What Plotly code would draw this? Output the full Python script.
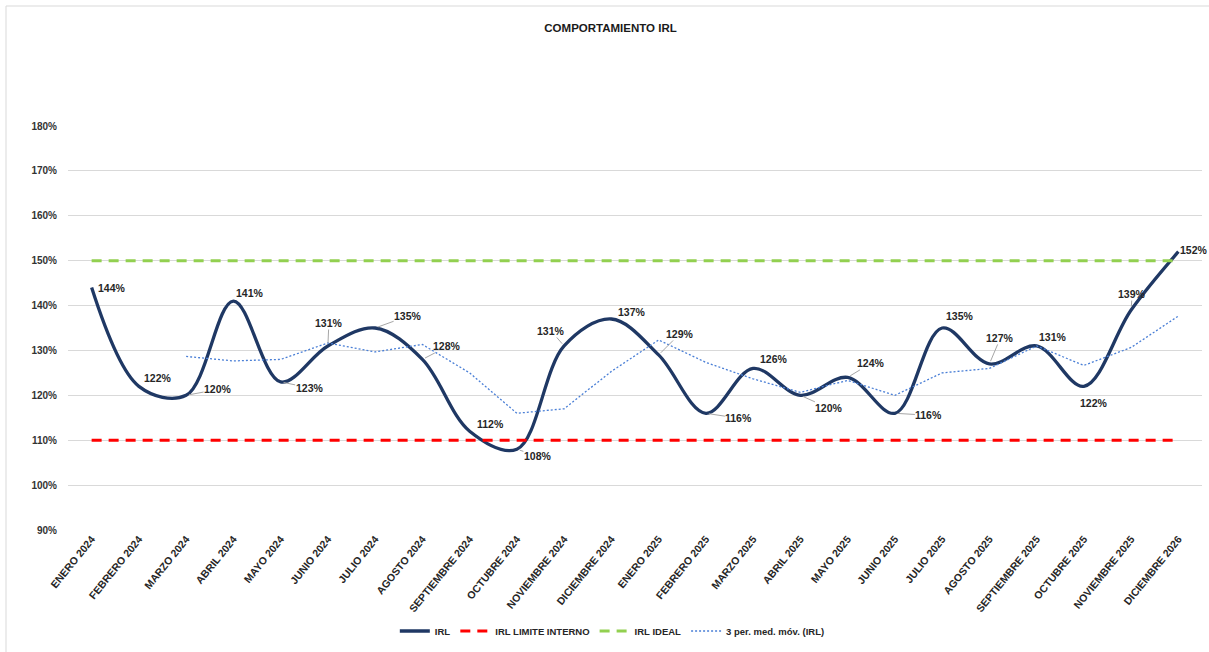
import pandas as pd
import plotly.graph_objects as go

# Monthly periods (category axis)
meses = [
    "ENERO 2024", "FEBRERO 2024", "MARZO 2024", "ABRIL 2024", "MAYO 2024",
    "JUNIO 2024", "JULIO 2024", "AGOSTO 2024", "SEPTIEMBRE 2024", "OCTUBRE 2024",
    "NOVIEMBRE 2024", "DICIEMBRE 2024", "ENERO 2025", "FEBRERO 2025", "MARZO 2025",
    "ABRIL 2025", "MAYO 2025", "JUNIO 2025", "JULIO 2025", "AGOSTO 2025",
    "SEPTIEMBRE 2025", "OCTUBRE 2025", "NOVIEMBRE 2025", "DICIEMBRE 2026",
]

# IRL values (%)
irl = [144, 122, 120, 141, 123, 131, 135, 128, 112, 108, 131, 137,
       129, 116, 126, 120, 124, 116, 135, 127, 131, 122, 139, 152]

# Reference levels (%)
limite_interno = [110] * len(meses)
irl_ideal = [150] * len(meses)

# 3-period moving average trend of IRL
media_movil = pd.Series(irl, dtype=float).rolling(3).mean().tolist()

y_ticks = [90, 100, 110, 120, 130, 140, 150, 160, 170, 180]

# Label placement: pixel offset of each value label from its point, and
# whether a leader line joins them
label_offsets = [
    (20, 0), (19, -8), (32, -6), (17, -8), (29, 6), (1, -23), (33, -12),
    (25, -13), (21, -7), (21, 7), (-13, -15), (21, -7), (21, -21), (33, 5),
    (21, -9), (29, 13), (23, -14), (34, 2), (18, -12), (11, -26), (16, -9),
    (10, 17), (1, -16), (16, -2),
]
leader = [False, False, True, False, True, True, True, True, False, True,
          True, False, True, True, False, True, True, True, False, True,
          False, False, True, False]

FONT = "Liberation Sans, Arial, sans-serif"
NAVY = "#1F3864"

fig = go.Figure()

fig.add_trace(go.Scatter(
    x=meses, y=irl, name="<b>IRL</b>", mode="lines",
    line=dict(color=NAVY, width=3.3, shape="spline", smoothing=1.0),
))
fig.add_trace(go.Scatter(
    x=meses, y=limite_interno, name="<b>IRL LIMITE INTERNO</b>", mode="lines",
    line=dict(color="#FF0000", width=3, dash="10px,7px"),
))
fig.add_trace(go.Scatter(
    x=meses, y=irl_ideal, name="<b>IRL IDEAL</b>", mode="lines",
    line=dict(color="#92D050", width=3, dash="10px,7px"),
))
fig.add_trace(go.Scatter(
    x=meses, y=media_movil, name="<b>3 per. med. móv. (IRL)</b>", mode="lines",
    line=dict(color="#4A7FD6", width=1.3, dash="2px,2px"),
))

annotations = []
for m, v, (dx, dy), has_leader in zip(meses, irl, label_offsets, leader):
    annotations.append(dict(
        x=m, y=v, xref="x", yref="y",
        text=f"<b>{v}%</b>",
        showarrow=True, arrowhead=0, arrowwidth=1,
        arrowcolor="#A6A6A6" if has_leader else "rgba(0,0,0,0)",
        standoff=3, ax=dx, ay=dy, borderpad=0,
        font=dict(family=FONT, size=10.5, color="#262626"),
    ))

fig.update_layout(
    width=1209, height=652,
    paper_bgcolor="white", plot_bgcolor="white",
    margin=dict(l=68, r=7, t=126, b=122),
    font=dict(family=FONT, color="#404040"),
    title=dict(
        text="<b>COMPORTAMIENTO IRL</b>",
        x=0.505, xref="container", xanchor="center",
        y=1 - 28 / 652, yref="container", yanchor="middle",
        font=dict(family=FONT, size=11.5, color="#1A1A1A"),
    ),
    xaxis=dict(
        type="category", range=[-0.5, len(meses) - 0.5],
        tickangle=-51, showgrid=False, showline=False, ticks="",
        tickfont=dict(family=FONT, size=10.5, color="#262626"),
        tickprefix="<b>", ticksuffix="</b>",
    ),
    yaxis=dict(
        range=[90, 180], tickvals=y_ticks,
        ticktext=[f"<b>{t}%</b>" for t in y_ticks],
        showgrid=True, gridcolor="#D9D9D9", gridwidth=1,
        zeroline=False, showline=False, ticks="",
        ticklabelstandoff=10,
        tickfont=dict(family=FONT, size=10, color="#333333"),
    ),
    legend=dict(
        orientation="h", x=0.48, xanchor="center", y=-0.25, yanchor="middle",
        font=dict(family=FONT, size=9.5, color="#262626"),
        itemwidth=30, bgcolor="rgba(0,0,0,0)",
    ),
    annotations=annotations,
    shapes=[dict(
        type="rect", xref="paper", yref="paper",
        x0=-62 / 1134, x1=1.2, y0=-0.5, y1=524 / 404,
        line=dict(color="#D9D9D9", width=1), fillcolor="rgba(0,0,0,0)",
        layer="below",
    )],
    showlegend=True,
)

fig.write_html("out.html")
